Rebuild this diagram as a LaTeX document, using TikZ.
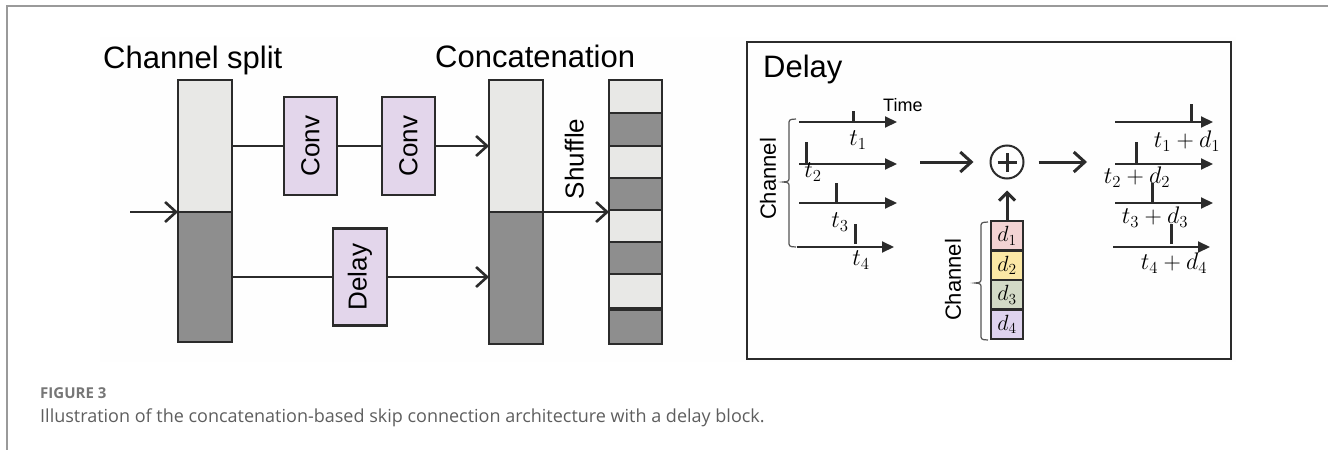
\RequirePackage{fix-cm}
\documentclass[tikz,border=0pt]{standalone}
\usepackage{fontspec}
\setmainfont{Liberation Sans}
\newfontfamily\capfont{Open Sans}
\usetikzlibrary{arrows.meta}
\definecolor{lc}{HTML}{2B2B2B}
\definecolor{lightg}{HTML}{E8E8E6}
\definecolor{darkg}{HTML}{8E8E8E}
\definecolor{lav}{HTML}{E3D6EB}
\definecolor{dpink}{HTML}{F3D3D3}
\definecolor{dyel}{HTML}{FBE8A6}
\definecolor{dgrn}{HTML}{D3DAC6}
\definecolor{dlav}{HTML}{DED3EE}
\definecolor{framec}{HTML}{9A9A9A}
\definecolor{capg}{HTML}{5E5E5E}
\definecolor{bgfaint}{HTML}{FEFEFE}
\begin{document}
\begin{tikzpicture}[x=1pt,y=-1pt,
  blk/.style={draw=lc, line width=2.6pt, inner sep=0pt, outer sep=0pt},
  litebar/.style={blk, fill=lightg, minimum width=54pt},
  darkbar/.style={blk, fill=darkg, minimum width=54pt},
  opbox/.style={blk, fill=lav, minimum width=53pt, line width=2.4pt},
  conn/.style={draw=lc, line width=2.6pt},
  barb/.style={conn, -{Straight Barb[length=11pt,width=20pt]}},
  tax/.style={draw=lc, line width=2pt, -{Triangle[length=12pt,width=11pt]}},
  tick/.style={draw=lc, line width=3pt},
  brk/.style={draw=lc!80, line width=1.2pt},
  title/.style={font=\fontsize{31}{36}\selectfont, inner sep=0pt, anchor=base west},
  rlab/.style={font=\fontsize{26}{30}\selectfont, rotate=90, inner sep=0pt},
  chlab/.style={font=\fontsize{22}{26}\selectfont, rotate=90, inner sep=0pt},
  mlab/.style={font=\fontsize{24}{28}\selectfont, inner sep=0pt},
  dcell/.style={draw=lc, line width=2.2pt, minimum width=32pt, minimum height=29.5pt, inner sep=0pt, font=\fontsize{22}{26}\selectfont}
]
\useasboundingbox (0,0) rectangle (1328,450);
% outer page frame
\draw[framec, line width=1.5pt] (1328,6) -- (7,6) -- (7,450);
% faint image background
\fill[bgfaint] (100,37) rectangle (1236,362);

% ---------- left part ----------
\node[title] (tsplit) at (103,68) {Channel split};
\node[title] (tconc) at (435,67) {Concatenation};

\node[litebar, minimum height=132pt] (sT) at (205,146) {};
\node[darkbar, minimum height=130pt] (sB) at (205,277) {};
\node[litebar, minimum height=132pt] (cT) at (516,146) {};
\node[darkbar, minimum height=132pt] (cB) at (516,278) {};

\node[opbox, minimum height=98pt] (c1) at (310.5,146) {};
\node[rlab] at (c1.center) {Conv};
\node[opbox, minimum height=98pt] (c2) at (408.5,146) {};
\node[rlab] at (c2.center) {Conv};
\node[opbox, minimum height=97pt, minimum width=54pt] (dl) at (360,277) {};
\node[rlab] at (dl.center) {Delay};

% shuffle bar
\foreach \n/\c/\h/\f in {1/96.5/33/lightg, 2/129.5/33/darkg, 3/162/32/lightg, 4/194/32/darkg, 5/226/32/lightg, 6/258/32/darkg, 7/291.5/35/lightg, 8/326.5/35/darkg}
  \node[blk, fill=\f, minimum width=53pt, minimum height=\h pt] (sh\n) at (635.5,\c) {};
\draw[lc, line width=4pt] (sh8.north west) -- (sh8.north east);

\coordinate (inp) at (130,212);
\draw[barb] (inp) -- (sT.south west);
\draw[conn] (sT.east) -- (c1.west);
\draw[conn] (c1.east) -- (c2.west);
\draw[barb] (c2.east) -- (cT.west);
\draw[conn] (sB.east) -- (dl.west);
\draw[barb] (dl.east) -- (dl.east -| cB.west);
\draw[barb] (cT.south east) -- (cT.south east -| sh5.west);
\node[rlab, anchor=south] (shuf) at (584,159) {Shuffle};

% ---------- delay panel ----------
\node[draw=lc, line width=2pt, minimum width=484pt, minimum height=317pt, inner sep=0pt] (panel) at (989,200.5) {};
\node[title] (tdel) at (763,77) {Delay};
\node[font=\fontsize{18}{22}\selectfont, inner sep=0pt, anchor=west] (time) at (883,105) {Time};

% input axes
\coordinate (a1s) at (799,122); \coordinate (a1e) at (897,122);
\coordinate (a2s) at (799,164); \coordinate (a2e) at (897,164);
\coordinate (a3s) at (799,203); \coordinate (a3e) at (897,203);
\coordinate (a4s) at (797,247); \coordinate (a4e) at (894,247);
\draw[tax] (a1s) -- (a1e);
\draw[tax] (a2s) -- (a2e);
\draw[tax] (a3s) -- (a3e);
\draw[tax] (a4s) -- (a4e);
\draw[tick] (853,111) -- (853,122);
\draw[tick] (806,142) -- (806,164);
\draw[tick] (836,183) -- (836,203);
\draw[tick] (855,224) -- (855,244);
\node[mlab] (lt1) at (858,140) {$t_1$};
\node[mlab] (lt2) at (813,172) {$t_2$};
\node[mlab] (lt3) at (840,222) {$t_3$};
\node[mlab] (lt4) at (861,260) {$t_4$};

% bracket for input channels
\draw[brk] (796,119) to[out=180,in=90] (789,122) -- (789,179) to[out=-90,in=0] (783,182) to[out=0,in=90] (789,185) -- (789,244) to[out=-90,in=180] (796,247);
\node[chlab] (ch1) at (768,179) {Channel};

% adder
\node[circle, draw=lc, line width=2pt, minimum size=33pt, inner sep=0pt] (plus) at (1007,162) {};
\draw[lc, line width=3pt] ([xshift=-9.5pt]plus.center) -- ([xshift=9.5pt]plus.center);
\draw[lc, line width=3pt] ([yshift=-9.5pt]plus.center) -- ([yshift=9.5pt]plus.center);
\coordinate (bigin) at (920,162);
\draw[barb, line width=3pt, shorten >=16pt] (bigin) -- (plus.west);
\coordinate (bigout) at (1087,162);
\draw[barb, line width=3pt, shorten <=14pt] (plus.east) -- (bigout);

% delay stack
\node[dcell, fill=dpink] (d1) at (1007,235.75) {$d_1$};
\node[dcell, fill=dyel]  (d2) at (1007,265.25) {$d_2$};
\node[dcell, fill=dgrn]  (d3) at (1007,294.75) {$d_3$};
\node[dcell, fill=dlav]  (d4) at (1007,324.25) {$d_4$};
\draw[barb, line width=3pt, shorten >=11pt, -{Straight Barb[length=8pt,width=16pt]}] (d1.north) -- (plus.south);
\draw[brk] (988,222) to[out=180,in=90] (981,225) -- (981,280) to[out=-90,in=0] (975,283) to[out=0,in=90] (981,286) -- (981,337) to[out=-90,in=180] (988,340);
\node[chlab] (ch2) at (953,280) {Channel};

% output axes
\coordinate (b1s) at (1115,122); \coordinate (b1e) at (1213,122);
\coordinate (b2s) at (1115,164); \coordinate (b2e) at (1213,164);
\coordinate (b3s) at (1115,203); \coordinate (b3e) at (1213,203);
\coordinate (b4s) at (1113,247); \coordinate (b4e) at (1210,247);
\draw[tax] (b1s) -- (b1e);
\draw[tax] (b2s) -- (b2e);
\draw[tax] (b3s) -- (b3e);
\draw[tax] (b4s) -- (b4e);
\draw[tick] (1191,104) -- (1191,122);
\draw[tick] (1136,142) -- (1136,164);
\draw[tick] (1152,183) -- (1152,203);
\draw[tick] (1171,224) -- (1171,244);
\node[mlab] (lo1) at (1187,141) {$t_1+d_1$};
\node[mlab] (lo2) at (1137,177) {$t_2+d_2$};
\node[mlab] (lo3) at (1155,217) {$t_3+d_3$};
\node[mlab] (lo4) at (1174,263) {$t_4+d_4$};

% ---------- caption ----------
\node[anchor=base west, inner sep=0pt, text=capg!85, font=\capfont\bfseries\fontsize{15}{18}\selectfont] (fig) at (40,398) {FIGURE 3};
\node[anchor=base west, inner sep=0pt, text=capg, font=\capfont\fontsize{18}{22}\selectfont] (cap) at (40,422) {Illustration of the concatenation-based skip connection architecture with a delay block.};
\end{tikzpicture}
\end{document}
